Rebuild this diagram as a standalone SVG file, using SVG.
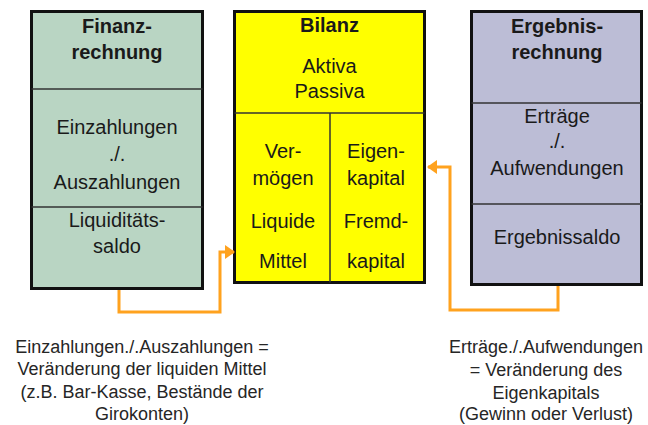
<svg xmlns="http://www.w3.org/2000/svg" width="648" height="425" viewBox="0 0 648 425">
<style>
.box{stroke:#111;stroke-width:3}
.div{stroke:#333;stroke-width:1.5;fill:none}
text{font-family:"Liberation Sans",Arial,sans-serif;fill:#1a1a1a;text-anchor:middle}
.t{font-size:20px;font-weight:bold}
.b{font-size:20px}
.n{font-size:18px;fill:#262626}
.con{fill:none;stroke:#ffa21e;stroke-width:3}
</style>
<defs>
<marker id="ah" markerWidth="10" markerHeight="14" refX="9" refY="7" orient="auto" markerUnits="userSpaceOnUse">
<path d="M0,0 L10,7 L0,14 Z" fill="#ffa21e"/>
</marker>
</defs>
<g id="finanzrechnung">
<rect class="box" x="31.5" y="11.5" width="171" height="277" fill="#b9d5c3"/>
<line class="div" x1="31.5" y1="89" x2="202.5" y2="89"/>
<line class="div" x1="31.5" y1="207" x2="202.5" y2="207"/>
<text class="t" x="117" y="33">Finanz-</text>
<text class="t" x="117" y="59">rechnung</text>
<text class="b" x="117" y="134">Einzahlungen</text>
<text class="b" x="117" y="161">./.</text>
<text class="b" x="117" y="189">Auszahlungen</text>
<text class="b" x="117" y="227">Liquiditäts-</text>
<text class="b" x="117" y="253">saldo</text>
</g>
<g id="bilanz">
<rect class="box" x="234.5" y="11.5" width="190" height="271" fill="#ffff00"/>
<line class="div" x1="234.5" y1="113" x2="424.5" y2="113"/>
<line class="div" x1="330" y1="113" x2="330" y2="282.5"/>
<text class="t" x="329.5" y="32">Bilanz</text>
<text class="b" x="329.5" y="73">Aktiva</text>
<text class="b" x="329.5" y="98">Passiva</text>
<text class="b" x="283" y="158">Ver-</text>
<text class="b" x="283" y="185">mögen</text>
<text class="b" x="283" y="228">Liquide</text>
<text class="b" x="283" y="268">Mittel</text>
<text class="b" x="376" y="158">Eigen-</text>
<text class="b" x="376" y="185">kapital</text>
<text class="b" x="376" y="228">Fremd-</text>
<text class="b" x="376" y="268">kapital</text>
</g>
<g id="ergebnisrechnung">
<rect class="box" x="471.5" y="11.5" width="170" height="273" fill="#bcbdd6"/>
<line class="div" x1="471.5" y1="103" x2="641.5" y2="103"/>
<line class="div" x1="471.5" y1="204" x2="641.5" y2="204"/>
<text class="t" x="557" y="33">Ergebnis-</text>
<text class="t" x="557" y="59">rechnung</text>
<text class="b" x="557" y="123">Erträge</text>
<text class="b" x="557" y="148">./.</text>
<text class="b" x="557" y="175">Aufwendungen</text>
<text class="b" x="557" y="244">Ergebnissaldo</text>
</g>
<g id="connectors">
<path class="con" d="M119,290 V312 H220 V252 H234" marker-end="url(#ah)"/>
<path class="con" d="M558,286 V310 H450 V167 H428" marker-end="url(#ah)"/>
</g>
<g id="notes">
<text class="n" x="142" y="353">Einzahlungen./.Auszahlungen =</text>
<text class="n" x="142" y="375">Veränderung der liquiden Mittel</text>
<text class="n" x="142" y="398">(z.B. Bar-Kasse, Bestände der</text>
<text class="n" x="142" y="420">Girokonten)</text>
<text class="n" x="546" y="353">Erträge./.Aufwendungen</text>
<text class="n" x="546" y="376">= Veränderung des</text>
<text class="n" x="546" y="399">Eigenkapitals</text>
<text class="n" x="546" y="420">(Gewinn oder Verlust)</text>
</g>
</svg>
